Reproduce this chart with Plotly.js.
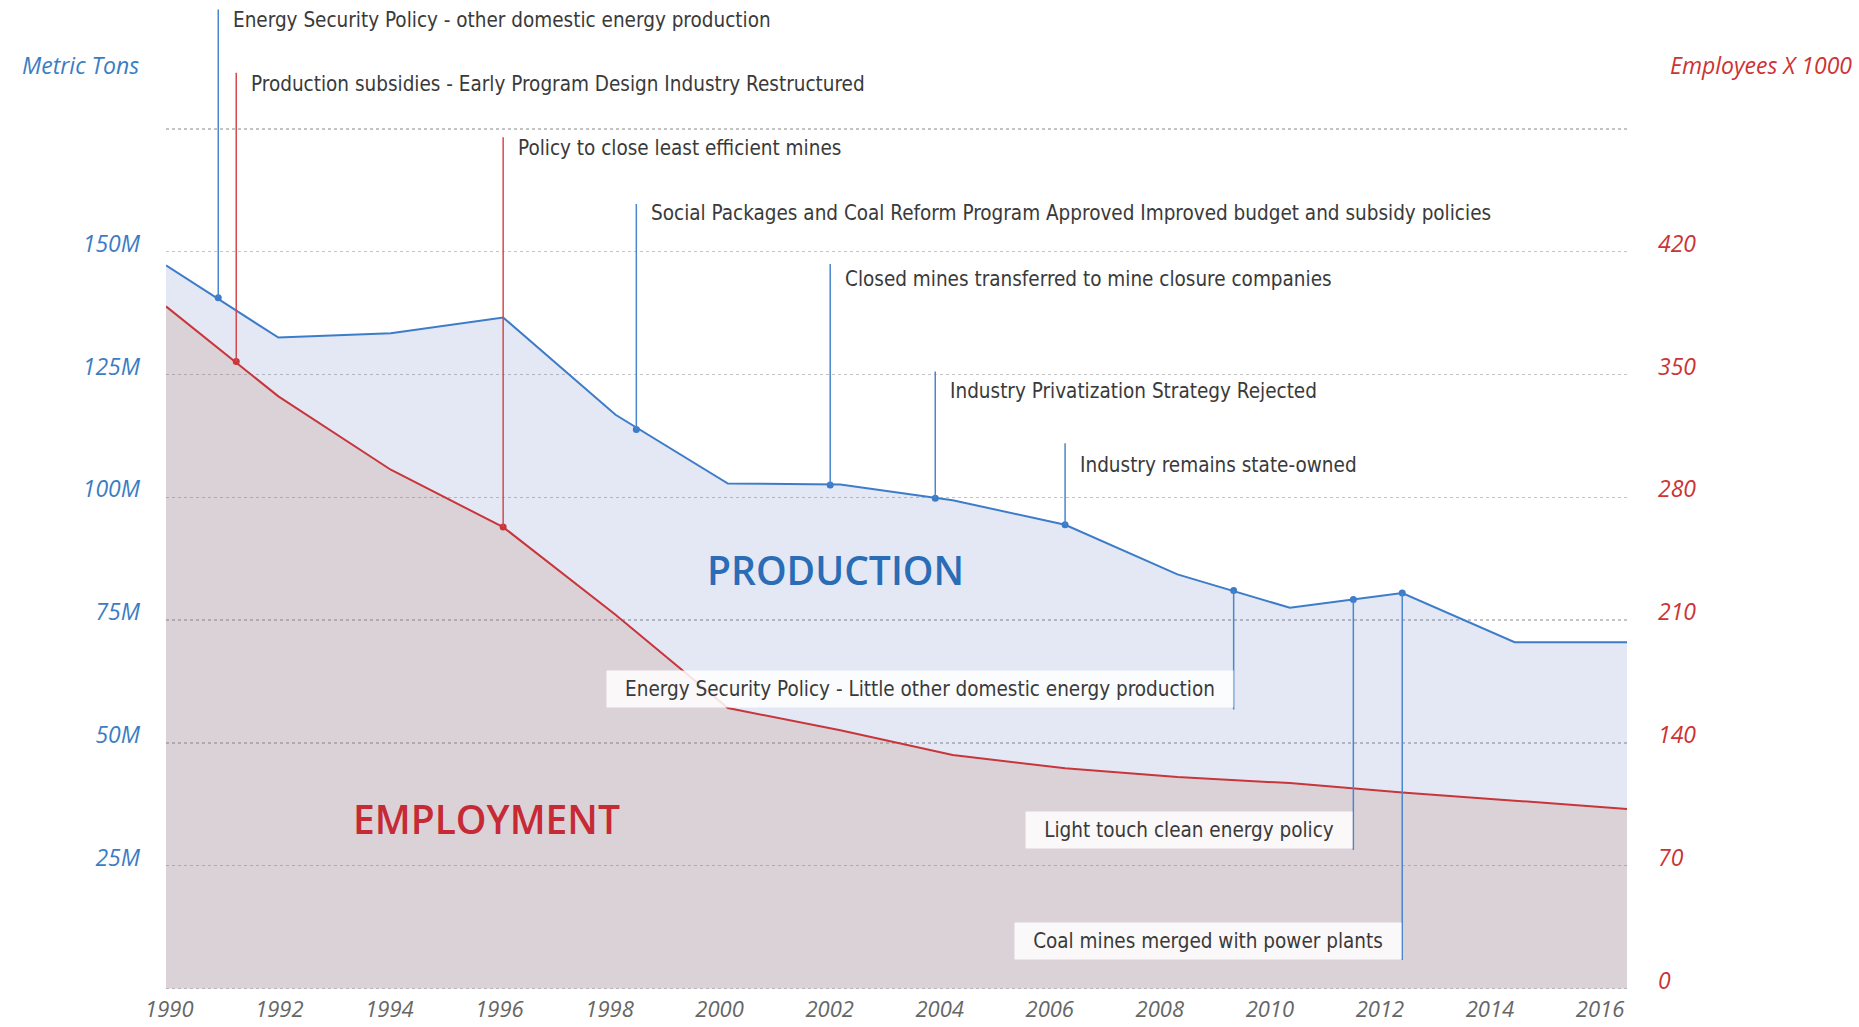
<!DOCTYPE html>
<html>
<head>
<meta charset="utf-8">
<script src="https://cdn.plot.ly/plotly-3.0.1.min.js"></script>
<style>
  html, body { margin: 0; padding: 0; background: #fff; }
  #plot { width: 1859px; height: 1027px; }
</style>
</head>
<body>
<div id="plot"></div>
<script>
// series, one point every two years
var years = [1990, 1992, 1994, 1996, 1998, 2000, 2002, 2004, 2006, 2008, 2010, 2012, 2014, 2016];
var production = [147.2, 132.5, 133.4, 136.6, 116.8, 102.8, 102.6, 99.4, 94.4, 84.3, 77.5, 80.5, 70.5, 70.5]; // million metric tons
var employment = [388.8, 337.5, 295.7, 263.0, 213.0, 159.9, 147.2, 133.1, 125.5, 120.5, 117.1, 111.7, 107.1, 102.3]; // employees x 1000

// axis ticks
var tonTicks = [0, 25, 50, 75, 100, 125, 150, 175];
var tonLabels = ['', '25M', '50M', '75M', '100M', '125M', '150M', ''];
var empTicks = [0, 70, 140, 210, 280, 350, 420, 490];
var empLabels = ['0', '70', '140', '210', '280', '350', '420', ''];
var yearLabels = [1990, 1992, 1994, 1996, 1998, 2000, 2002, 2004, 2006, 2008, 2010, 2012, 2014, 2016];

// policy events
var eventText = [
    'Energy Security Policy - other domestic energy production',
    'Production subsidies - Early Program Design Industry Restructured',
    'Policy to close least efficient mines',
    'Social Packages and Coal Reform Program Approved Improved budget and subsidy policies',
    'Closed mines transferred to mine closure companies',
    'Industry Privatization Strategy Rejected',
    'Industry remains state-owned',
    'Energy Security Policy - Little other domestic energy production',
    'Light touch clean energy policy',
    'Coal mines merged with power plants'
];
var eventYear = [1990.93, 1991.25, 1996.0, 1998.37, 2001.82, 2003.69, 2006.0, 2009.0, 2011.13, 2012.0];
var eventSeries = ['prod', 'emp', 'emp', 'prod', 'prod', 'prod', 'prod', 'prod', 'prod', 'prod'];
var eventValue = [140.6, 357.4, 263.0, 113.8, 102.5, 99.8, 94.4, 81.0, 79.2, 80.5];

// label placement, in million tons on the left axis
var leaderEnd = [199.3, 186.4, 173.3, 159.7, 147.5, 125.6, 111.0, 56.8, 28.2, 5.8];
var labelMid = [197.2, 184.1, 171.1, 157.8, 144.5, 121.6, 106.6, 61.0, 32.2, 9.7];
var labelBelow = [false, false, false, false, false, false, false, true, true, true];

var blue = '#3d7cc9';
var red = '#c8353a';
var empPerTon = 70 / 25;
var noteFont = '"DejaVu Sans Condensed", "DejaVu Sans", sans-serif';
var noteSize = 20.5;

// the year labels sit on a slightly narrower scale than the data
var labelStart = 1989.94, labelSpan = 26.55;
function labelPos(yr) {
    return years[0] + (yr - labelStart) * (years[years.length - 1] - years[0]) / labelSpan;
}

var ctx = document.createElement('canvas').getContext('2d');
ctx.font = noteSize + 'px ' + noteFont;

function pick(arr, series) {
    return arr.filter(function (v, i) { return eventSeries[i] === series; });
}

var data = [
    {
        x: years, y: production, type: 'scatter', mode: 'lines',
        fill: 'tozeroy', fillcolor: 'rgba(68,102,182,0.15)',
        line: {color: blue, width: 2}, hoverinfo: 'skip'
    },
    {
        x: years, y: employment, yaxis: 'y2', type: 'scatter', mode: 'lines',
        fill: 'tozeroy', fillcolor: 'rgba(192,127,104,0.2)',
        line: {color: red, width: 2}, hoverinfo: 'skip'
    },
    {
        x: pick(eventYear, 'prod'), y: pick(eventValue, 'prod'), type: 'scatter', mode: 'markers',
        marker: {color: blue, size: 7}, hoverinfo: 'skip'
    },
    {
        x: pick(eventYear, 'emp'), y: pick(eventValue, 'emp'), yaxis: 'y2', type: 'scatter', mode: 'markers',
        marker: {color: red, size: 7}, hoverinfo: 'skip'
    }
];

var shapes = eventText.map(function (t, i) {
    var emp = eventSeries[i] === 'emp';
    return {
        type: 'line', xref: 'x', yref: emp ? 'y2' : 'y',
        x0: eventYear[i], x1: eventYear[i],
        y0: eventValue[i], y1: emp ? leaderEnd[i] * empPerTon : leaderEnd[i],
        line: {color: emp ? '#d24a4e' : '#4a86d0', width: 1.5}
    };
});

var annotations = eventText.map(function (t, i) {
    var a = {
        text: t, xref: 'x', yref: 'y', x: eventYear[i], y: labelMid[i],
        showarrow: false, yanchor: 'middle',
        font: {family: noteFont, size: noteSize, color: '#3a3a3a'}
    };
    if (labelBelow[i]) {
        a.xanchor = 'right';
        a.bgcolor = 'rgba(255,255,255,0.85)';
        a.borderpad = 6;
        a.width = Math.ceil(ctx.measureText(t).width) + 24;
    } else {
        a.xanchor = 'left';
        a.borderpad = 0;
        a.xshift = 14;
    }
    return a;
});

annotations.push(
    {text: 'PRODUCTION', xref: 'x', yref: 'y', x: 2001.92, y: 85.4, showarrow: false,
     font: {family: 'Open Sans', size: 39, weight: 600, color: '#2a6cb5'}},
    {text: 'EMPLOYMENT', xref: 'x', yref: 'y', x: 1995.71, y: 34.6, showarrow: false,
     font: {family: 'Open Sans', size: 39, weight: 600, color: '#c62a35'}},
    {text: 'Metric Tons', xref: 'paper', yref: 'paper', x: -0.0174, y: 0.94,
     xanchor: 'right', yanchor: 'middle', showarrow: false,
     font: {family: 'Open Sans', size: 23, color: '#3b7dc4', style: 'italic'}},
    {text: 'Employees X 1000', xref: 'paper', yref: 'paper', x: 1.1554, y: 0.94,
     xanchor: 'right', yanchor: 'middle', showarrow: false,
     font: {family: 'Open Sans', size: 23, color: '#cc3333', style: 'italic'}}
);

var layout = {
    width: 1859, height: 1027,
    margin: {l: 166, r: 232, t: 6, b: 36},
    paper_bgcolor: '#ffffff', plot_bgcolor: '#ffffff',
    showlegend: false,
    font: {family: 'Open Sans', color: '#444'},
    xaxis: {
        range: [1990, 2016],
        tickvals: yearLabels.map(labelPos), ticktext: yearLabels.map(String),
        showgrid: false, zeroline: false, ticks: '', showline: false,
        ticklabelstandoff: 3,
        tickfont: {family: 'Open Sans', size: 22, color: '#666', style: 'italic'}
    },
    yaxis: {
        range: [-0.5, 200], tickvals: tonTicks, ticktext: tonLabels,
        gridcolor: '#c4c4c4', griddash: 'dot', gridwidth: 1.5,
        zeroline: false, showline: false, ticks: '',
        ticklabelstandoff: 25, ticklabelshift: -8,
        tickfont: {family: 'Open Sans', size: 23, color: '#3b7dc4', style: 'italic'}
    },
    yaxis2: {
        overlaying: 'y', side: 'right',
        range: [-0.5 * empPerTon, 200 * empPerTon], tickvals: empTicks, ticktext: empLabels,
        showgrid: false, zeroline: false, showline: false, ticks: '',
        ticklabelstandoff: 30, ticklabelshift: -8,
        tickfont: {family: 'Open Sans', size: 23, color: '#cc3333', style: 'italic'}
    },
    shapes: shapes,
    annotations: annotations
};

Plotly.newPlot('plot', data, layout, {displayModeBar: false, staticPlot: true});
</script>
</body>
</html>
